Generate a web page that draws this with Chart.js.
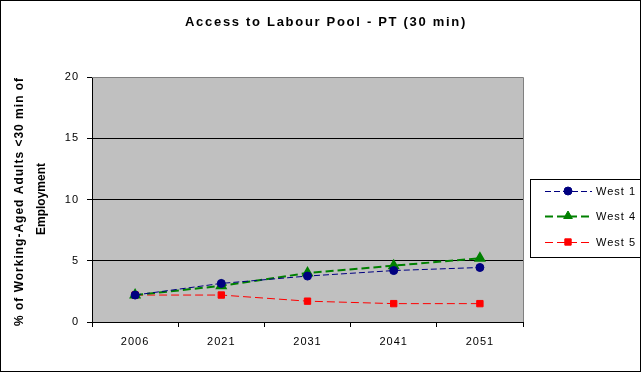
<!DOCTYPE html>
<html lang="en">
<head>
  <meta charset="UTF-8">
  <title>Access to Labour Pool - PT (30 min)</title>
  <script src="https://cdn.jsdelivr.net/npm/chart.js"></script>
  <style>
    html, body { margin: 0; padding: 0; background: #fff; }
    #wrap { width: 641px; height: 372px; }
  </style>
</head>
<body>
  <div id="wrap"><canvas id="labourChart" width="641" height="372"></canvas></div>

  <script>
    const years = ['2006', '2021', '2031', '2041', '2051'];
    const west1 = [2.2, 3.15, 3.75, 4.2, 4.45];
    const west4 = [2.2, 2.95, 4.0, 4.6, 5.2];
    const west5 = [2.2, 2.2, 1.7, 1.5, 1.5];
    const yTicks = [0, 5, 10, 15, 20];

    const titleText = 'Access to Labour Pool - PT (30 min)';
    const yTitle = ['% of Working-Aged Adults <30 min of', 'Employment'];
    const font = '"Liberation Sans", Arial, sans-serif';

    // title, rotated y title, legend box and outer frame
    const decorations = {
      id: 'decorations',
      beforeDraw(chart) {
        const ctx = chart.ctx;
        const area = chart.chartArea;
        ctx.save();
        ctx.fillStyle = '#fff';
        ctx.fillRect(0, 0, chart.width, chart.height);
        ctx.fillStyle = '#c0c0c0';
        ctx.fillRect(area.left, area.top, area.right - area.left, area.bottom - area.top);
        ctx.restore();
        ctx.letterSpacing = '1px';
      },
      afterDraw(chart) {
        const ctx = chart.ctx;
        const area = chart.chartArea;
        ctx.save();
        ctx.strokeStyle = '#808080';
        ctx.lineWidth = 1;
        ctx.beginPath();
        ctx.moveTo(area.left, area.top + 0.5);
        ctx.lineTo(area.right + 0.5, area.top + 0.5);
        ctx.lineTo(area.right + 0.5, area.bottom);
        ctx.stroke();

        // title
        ctx.fillStyle = '#000';
        ctx.font = 'bold 13px ' + font;
        ctx.letterSpacing = '1.7px';
        ctx.textAlign = 'center';
        ctx.textBaseline = 'middle';
        ctx.fillText(titleText, 326, 22);

        // y axis title, first line clipped at the top like the original
        ctx.save();
        ctx.beginPath();
        ctx.rect(0, 74, 80, 290);
        ctx.clip();
        ctx.font = 'bold 12px ' + font;
        ctx.letterSpacing = '1px';
        ctx.translate(20, 326);
        ctx.rotate(-Math.PI / 2);
        ctx.textAlign = 'left';
        ctx.fillText(yTitle[0], 0, 0);
        ctx.restore();
        ctx.save();
        ctx.font = 'bold 12px ' + font;
        ctx.letterSpacing = '0px';
        ctx.translate(42, 199);
        ctx.rotate(-Math.PI / 2);
        ctx.textAlign = 'center';
        ctx.textBaseline = 'middle';
        ctx.fillText(yTitle[1], 0, 0);
        ctx.restore();

        // legend
        ctx.strokeStyle = '#000';
        ctx.lineWidth = 1;
        ctx.strokeRect(530.5, 179.5, 120, 78);
        ctx.font = '11px ' + font;
        ctx.letterSpacing = '1px';
        ctx.textAlign = 'left';
        ctx.textBaseline = 'middle';
        const rows = [191, 216, 242];
        chart.data.datasets.forEach((ds, i) => {
          const y = rows[i];
          ctx.save();
          ctx.strokeStyle = ds.borderColor;
          ctx.lineWidth = ds.borderWidth;
          ctx.setLineDash(ds.borderDash);
          ctx.beginPath();
          ctx.moveTo(545, y + 0.5);
          ctx.lineTo(592, y + 0.5);
          ctx.stroke();
          ctx.restore();
          ctx.save();
          ctx.fillStyle = ds.pointBackgroundColor;
          ctx.strokeStyle = ds.pointBorderColor;
          ctx.lineWidth = 1;
          Chart.helpers.drawPoint(ctx, {
            pointStyle: ds.pointStyle,
            radius: ds.pointRadius,
            borderWidth: 1
          }, 568, y);
          ctx.restore();
          ctx.fillStyle = '#000';
          ctx.fillText(ds.label, 596, y + 1);
        });

        // outer frame
        ctx.letterSpacing = '0px';
        ctx.strokeStyle = '#000';
        ctx.strokeRect(0.5, 0.5, chart.width - 1, chart.height - 1);
        ctx.restore();
      }
    };

    const ctx = document.getElementById('labourChart').getContext('2d');
    new Chart(ctx, {
      type: 'line',
      data: {
        labels: years,
        datasets: [
          {
            label: 'West 1',
            data: west1,
            borderColor: '#000080',
            backgroundColor: '#000080',
            borderWidth: 1,
            borderDash: [6, 3],
            pointStyle: 'circle',
            pointRadius: 4,
            pointBorderColor: '#000080',
            pointBackgroundColor: '#000080',
            tension: 0
          },
          {
            label: 'West 4',
            data: west4,
            borderColor: '#008000',
            backgroundColor: '#008000',
            borderWidth: 2,
            borderDash: [8, 4],
            pointStyle: 'triangle',
            pointRadius: 5,
            pointBorderColor: '#008000',
            pointBackgroundColor: '#008000',
            tension: 0
          },
          {
            label: 'West 5',
            data: west5,
            borderColor: '#ff0000',
            backgroundColor: '#ff0000',
            borderWidth: 1,
            borderDash: [8, 4],
            pointStyle: 'rect',
            pointRadius: 4.5,
            pointBorderColor: '#ff0000',
            pointBackgroundColor: '#ff0000',
            tension: 0
          }
        ]
      },
      options: {
        responsive: false,
        animation: false,
        devicePixelRatio: 1,
        layout: { padding: { top: 77, right: 118, left: 0, bottom: 0 } },
        plugins: {
          legend: { display: false },
          title: { display: false },
          tooltip: { enabled: false }
        },
        scales: {
          x: {
            offset: true,
            grid: {
              offset: true,
              drawOnChartArea: false,
              color: '#000',
              tickLength: 5,
              tickColor: '#000'
            },
            border: { color: '#000' },
            ticks: {
              color: '#000',
              font: { family: font, size: 11 },
              padding: 8,
              maxRotation: 0
            },
            afterFit(scale) { scale.height = 50; }
          },
          y: {
            min: 0,
            max: 20,
            afterBuildTicks(scale) { scale.ticks = yTicks.map(v => ({ value: v })); },
            grid: {
              color: (c) => c.tick && c.tick.value === 0 ? 'rgba(0,0,0,0)' : '#000',
              tickLength: 5,
              tickColor: '#000'
            },
            border: { color: '#000' },
            ticks: {
              color: '#000',
              font: { family: font, size: 11 },
              padding: 8
            },
            afterFit(scale) { scale.width = 92; }
          }
        }
      },
      plugins: [decorations]
    });
  </script>
</body>
</html>
